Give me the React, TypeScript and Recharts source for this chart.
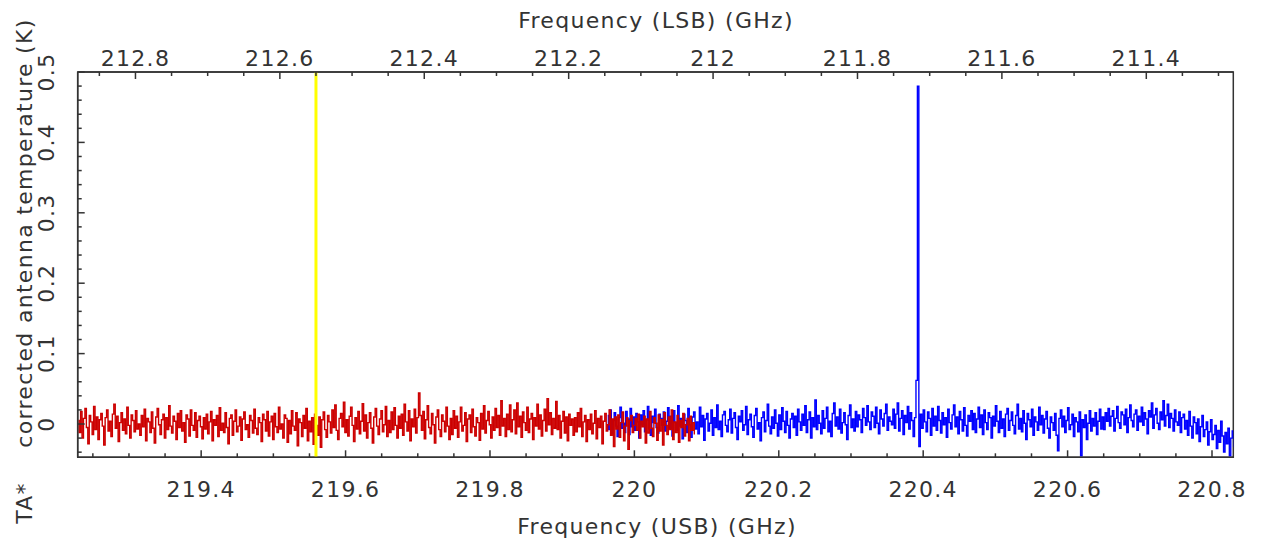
import React from 'react';
import { ComposedChart, Line, XAxis, YAxis, ReferenceLine, ReferenceArea } from 'recharts';

// ---------- axis ranges & ticks ----------
const usbDomain: [number, number] = [219.229, 220.8295];
const lsbDomain: [number, number] = [211.2795, 212.88];
const tDomain: [number, number] = [-0.0473, 0.5];

const usbTicks = [219.25, 219.3, 219.35, 219.4, 219.45, 219.5, 219.55, 219.6, 219.65, 219.7, 219.75, 219.8, 219.85, 219.9, 219.95, 220, 220.05, 220.1, 220.15, 220.2, 220.25, 220.3, 220.35, 220.4, 220.45, 220.5, 220.55, 220.6, 220.65, 220.7, 220.75, 220.8];
const usbMajor = [219.4, 219.6, 219.8, 220, 220.2, 220.4, 220.6, 220.8];
const lsbTicks = [211.3, 211.35, 211.4, 211.45, 211.5, 211.55, 211.6, 211.65, 211.7, 211.75, 211.8, 211.85, 211.9, 211.95, 212, 212.05, 212.1, 212.15, 212.2, 212.25, 212.3, 212.35, 212.4, 212.45, 212.5, 212.55, 212.6, 212.65, 212.7, 212.75, 212.8, 212.85];
const lsbMajor = [211.4, 211.6, 211.8, 212, 212.2, 212.4, 212.6, 212.8];
const tTicks = [-0.04, -0.02, 0, 0.02, 0.04, 0.06, 0.08, 0.1, 0.12, 0.14, 0.16, 0.18, 0.2, 0.22, 0.24, 0.26, 0.28, 0.3, 0.32, 0.34, 0.36, 0.38, 0.4, 0.42, 0.44, 0.46, 0.48, 0.5];
const tMajor = [0, 0.1, 0.2, 0.3, 0.4, 0.5];

// marker line (USB GHz)
const markerFreq = 219.559;

// ---------- spectra (channel start / width in GHz, TA* in mK) ----------
const redStart = 219.23;
const redChan = 0.002;
const redTmK = [
  5, -12, 18, -20, 8, 22, -5, -28, 12, 3, -15, 25, -8, 10, -22, 6, 15, -3, -30, 9,
  20, -10, 4, -18, 14, 28, -6, 11, -25, 2, 16, -9, 7, -14, 24, -2, -20, 13, 5, -11, 19, -7, 0,
  -16, 12, -4, 21, -24, 8, 3, -12, 17, -6, -27, 10, 22, -1, -15, 6, 14, -20, 9, -8,
  26, -3, -13, 11, 4, -22, 15, -5, 19, -10, 2, -26, 13, 7, -17, 20, -2, -9, 16, -19, 5, 11, -4,
  -21, 9, -7, 14, -14, 3, 18, -24, 6, -2, 12, -18, 23, -9, 1, -12, 16, -5, -28, 8,
  13, -16, 4, 20, -11, -3, 10, -23, 7, 17, -8, -1, -19, 12, 5, -13, 21, -6, -15, 9, 2, -25, 14,
  6, -10, 18, -17, 3, 11, -22, 15, -4, -12, 24, -7, 0, -20, 13, 8, -26, 5, -14, 19,
  -3, -9, 16, -31, 7, 2, -18, 12, -6, 22, -24, 4, -11, 9, -29, 14, -2, -16, 10, -33, 6, 17, -8,
  -19, 12, 3, -13, 20, -5, 27, -9, -22, 8, 15, -4, 31, -12, 6, -17, 11, 24, -2, -25,
  9, -7, 18, -14, 4, 29, -10, 13, -20, 2, 16, -6, -27, 10, 22, -3, -15, 7, 19, -11, -1, 25, -18,
  5, -12, 17, -8, 23, -2, -20, 11, -6, 14, -16, 28, 3, -10, 19, -24, 7, -4, 21, -13,
  9, 44, 12, -9, 18, -21, 6, 26, -5, -14, 15, -1, -27, 10, 20, -8, -18, 13, 4, -11, 24, -3, -22,
  8, -15, 19, -6, 11, -19, 3, 24, -10, -2, 16, -25, 7, 13, -12, 21, -4, -17, 9, 2,
  -23, 15, -7, 26, -13, 5, 18, -1, -20, 10, -9, 22, -5, 12, -16, 33, -3, 8, -18, 14, -8, 27, -11,
  6, 20, -14, 30, -4, 11, -19, 17, 2, -9, 24, -12, 7, 15, -22, 9, -3, 28, -7, 13,
  -17, 5, 21, -10, 36, -1, 16, -15, 8, -6, 32, -8, 12, -20, 4, 18, -13, 10, -24, 14, -2, 7, -16,
  9, -11, 16, -4, 22, -18, 3, 12, -25, 6, -8, 14, -14, 1, 19, -21, 8, -5, 11, -28,
  4, 15, -10, -1, 20, -16, 7, -32, 10, -7, 13, -19, 2, 17, -24, -3, 9, -36, 5, 12, -12, -2, 8,
  -9, 14, -20, 4, -4, 11, -27, 7, -13, 18, -6, -18, 9, 1, -23, 13, -10, 6, -30, 16,
  -2, -15, 10, -8, 20, -22, 3, -12, 12, -26, 5, -5, 15, -17, -1, 8, -24, 11, -9, 2, -14,
];

const blueStart = 219.963;
const blueChan = 0.002;
const blueTmK = [
  12, -8, 20, -14, 5, 16, -3, -18, 9, 24, -6, 1, -12, 18, 7, -15, 22, -4, 10, -9,
  15, 3, -20, 13, -1, 19, -11, 6, 25, -7, -16, 11, 2, 21, -5, -13, 14, 8, -2, 17, -10, 4, 23,
  -6, 11, -17, 19, 2, -9, 26, -3, 8, -21, 14, 5, -12, 22, -1, -19, 10, 17, -7, 3,
  -14, 24, -4, 12, -23, 7, 15, -10, 1, 20, -16, 9, -5, 27, -8, 4, -18, 13, 18, -2, -11, 6, 21,
  -13, 8, 16, -5, -22, 11, 3, 19, -9, -1, 25, -15, 6, 14, -4, -19, 12, 22, -7, 2,
  -24, 9, 17, -11, 5, 28, -3, -14, 10, -6, 20, 1, -17, 13, -8, 23, 4, -12, 18, -2, -20, 7, 15,
  -5, 11, -16, 21, 3, -9, 14, -2, 26, -12, 6, 17, -20, 9, -4, 34, -8, 12, 1, -14,
  19, -6, 8, 24, -11, 4, -18, 15, 30, -3, 10, -7, 21, -13, 2, 16, -1, -22, 12, 27, -5, 7, -10,
  18, -4, 13, 6, -12, 22, 9, -2, 26, 3, -8, 17, 11, -5, 24, 1, -14, 20, 7, -3,
  15, 28, -9, 10, 4, -1, 21, -6, 14, 30, -10, 8, 19, -15, 12, 2, 25, -7, 16, 5, -18, 9, 62,
  480, -32, 14, -6, 20, 3, -11, 17, 8, -16, 22, -3, 11, -9, 25, 5, -13, 16, -1, 9,
  -19, 21, 2, -7, 13, 27, -4, 10, -14, 18, 6, -10, 23, -2, -17, 12, 4, 19, -8, 15, -12, 7, 24,
  -5, 13, -15, 20, 2, -8, 16, 9, -20, 11, -3, 26, 4, -12, 18, -6, 7, -18, 14, 22,
  -9, 5, 17, -2, -14, 12, 28, -7, 8, -11, 19, 1, -22, 15, 6, -4, 21, -16, 10, 3, -9, 24, -1,
  12, -13, 7, 18, -6, -20, 10, 2, -9, 15, -16, -38, 8, 20, -4, 11, -12, 5, 23, -8,
  -1, 14, -18, 9, 3, -11, 17, -45, 6, -5, 13, -22, 1, 19, -10, 8, -3, 16, -15, 4, 21, -7, 10,
  -8, 16, 4, 22, -3, 11, 19, -10, 8, 25, 2, -6, 17, 13, -1, 21, -12, 9, 27, 5,
  -4, 14, 20, -9, 11, 3, 24, -2, 16, 7, -14, 19, 10, 30, -6, 13, 22, 1, -8, 17, 6, 33, -3,
  12, 28, -5, 15, 8, -10, 20, 3, -2, 17, -12, 9, 14, -7, 5, -16, 18, -3, -20, 10,
  2, -14, 7, -25, -4, 12, -18, -8, 3, -30, -11, 6, -22, -15, -2, -35, -9, -26, 4, -17,
  -40, -12, -28, -6, -45, -20, -10, -32,
];

const redData = redTmK.map((v, i) => ({ f: redStart + i * redChan, t: v / 1000 }));
const blueData = blueTmK.map((v, i) => ({ f: blueStart + i * blueChan, t: v / 1000 }));
// rows for the LSB (top) axis so that it gets a scale
const lsbRows = lsbTicks.map((v) => ({ lsb: v }));

// ---------- styling ----------
const FONT = 'DejaVu Sans, Verdana, sans-serif';
const TXT = '#333333';
const AXIS = '#333333';
const FS = 22;
const LS = 1.3;

const isIn = (v: number, arr: number[]) => arr.some((m) => Math.abs(m - v) < 1e-6);
const fmt = (v: number) => String(Math.round(v * 100) / 100);

const BottomTick = (props: any) => {
  const { x, y, payload } = props;
  const v = payload.value;
  const major = isIn(v, usbMajor);
  return (
    <g>
      <line x1={x} x2={x} y1={y} y2={y - (major ? 7 : 4)} stroke={AXIS} strokeWidth={1.5} />
      {major && (
        <text x={x} y={y + 40} textAnchor="middle" fontFamily={FONT} fontSize={FS} fill={TXT} letterSpacing={LS}>
          {fmt(v)}
        </text>
      )}
    </g>
  );
};

const TopTick = (props: any) => {
  const { x, y, payload } = props;
  const v = payload.value;
  const major = isIn(v, lsbMajor);
  return (
    <g>
      <line x1={x} x2={x} y1={y} y2={y + (major ? 7 : 4)} stroke={AXIS} strokeWidth={1.5} />
      {major && (
        <text x={x} y={y - 6} textAnchor="middle" fontFamily={FONT} fontSize={FS} fill={TXT} letterSpacing={LS}>
          {fmt(v)}
        </text>
      )}
    </g>
  );
};

const LeftTick = (props: any) => {
  const { x, y, payload } = props;
  const v = payload.value;
  const major = isIn(v, tMajor);
  return (
    <g>
      <line x1={x} x2={x + (major ? 7 : 4)} y1={y} y2={y} stroke={AXIS} strokeWidth={1.5} />
      {major && (
        <text
          transform={`translate(${x - 31},${y}) rotate(-90)`}
          textAnchor="middle"
          dominantBaseline="central"
          fontFamily={FONT}
          fontSize={FS}
          fill={TXT}
          letterSpacing={LS}
        >
          {fmt(v)}
        </text>
      )}
    </g>
  );
};

export default function App() {
  return (
    <div style={{ position: 'absolute', left: 0, top: 0, width: 1268, height: 544, background: '#ffffff' }}>
      <ComposedChart width={1268} height={544} data={lsbRows} margin={{ top: 42, right: 34.7, bottom: 56.7, left: 37.7 }}>
        <XAxis
          xAxisId="usb"
          dataKey="f"
          type="number"
          orientation="bottom"
          domain={usbDomain}
          allowDataOverflow
          ticks={usbTicks}
          interval={0}
          tick={<BottomTick />}
          tickLine={false}
          tickSize={0}
          tickMargin={0}
          axisLine={{ stroke: AXIS, strokeWidth: 1.5 }}
          height={30}
        />
        <XAxis
          xAxisId="lsb"
          dataKey="lsb"
          type="number"
          orientation="top"
          reversed
          domain={lsbDomain}
          allowDataOverflow
          ticks={lsbTicks}
          interval={0}
          tick={<TopTick />}
          tickLine={false}
          tickSize={0}
          tickMargin={0}
          axisLine={{ stroke: AXIS, strokeWidth: 1.5 }}
          height={30}
        />
        <YAxis
          yAxisId="t"
          type="number"
          domain={tDomain}
          allowDataOverflow
          ticks={tTicks}
          interval={0}
          tick={<LeftTick />}
          tickLine={false}
          tickSize={0}
          tickMargin={0}
          axisLine={{ stroke: AXIS, strokeWidth: 1.5 }}
          width={40}
        />
        <ReferenceArea
          xAxisId="usb"
          yAxisId="t"
          x1={usbDomain[0]}
          x2={usbDomain[1]}
          y1={tDomain[0]}
          y2={tDomain[1]}
          fill="none"
          fillOpacity={0}
          stroke={AXIS}
          strokeWidth={1.5}
          ifOverflow="visible"
        />
        <Line
          xAxisId="usb"
          yAxisId="t"
          type="step"
          data={blueData}
          dataKey="t"
          stroke="#0000ff"
          strokeWidth={1.4}
          dot={false}
          activeDot={false}
          isAnimationActive={false}
        />
        <Line
          xAxisId="usb"
          yAxisId="t"
          type="step"
          data={redData}
          dataKey="t"
          stroke="#cc0000"
          strokeWidth={1.4}
          dot={false}
          activeDot={false}
          isAnimationActive={false}
        />
        <ReferenceLine xAxisId="usb" yAxisId="t" x={markerFreq} stroke="#ffff00" strokeWidth={3} ifOverflow="visible" />
        <text x={656} y={28} textAnchor="middle" fontFamily={FONT} fontSize={FS} fill={TXT} letterSpacing={LS}>
          Frequency (LSB) (GHz)
        </text>
        <text x={657} y={534} textAnchor="middle" fontFamily={FONT} fontSize={FS} fill={TXT} letterSpacing={LS}>
          Frequency (USB) (GHz)
        </text>
        <text
          transform="translate(24,233) rotate(-90)"
          textAnchor="middle"
          dominantBaseline="central"
          fontFamily={FONT}
          fontSize={FS}
          fill={TXT}
          letterSpacing={LS}
        >
          corrected antenna temperature (K)
        </text>
        <text
          transform="translate(24,503) rotate(-90)"
          textAnchor="middle"
          dominantBaseline="central"
          fontFamily={FONT}
          fontSize={FS}
          fill={TXT}
          letterSpacing={LS}
        >
          TA*
        </text>
      </ComposedChart>
    </div>
  );
}
